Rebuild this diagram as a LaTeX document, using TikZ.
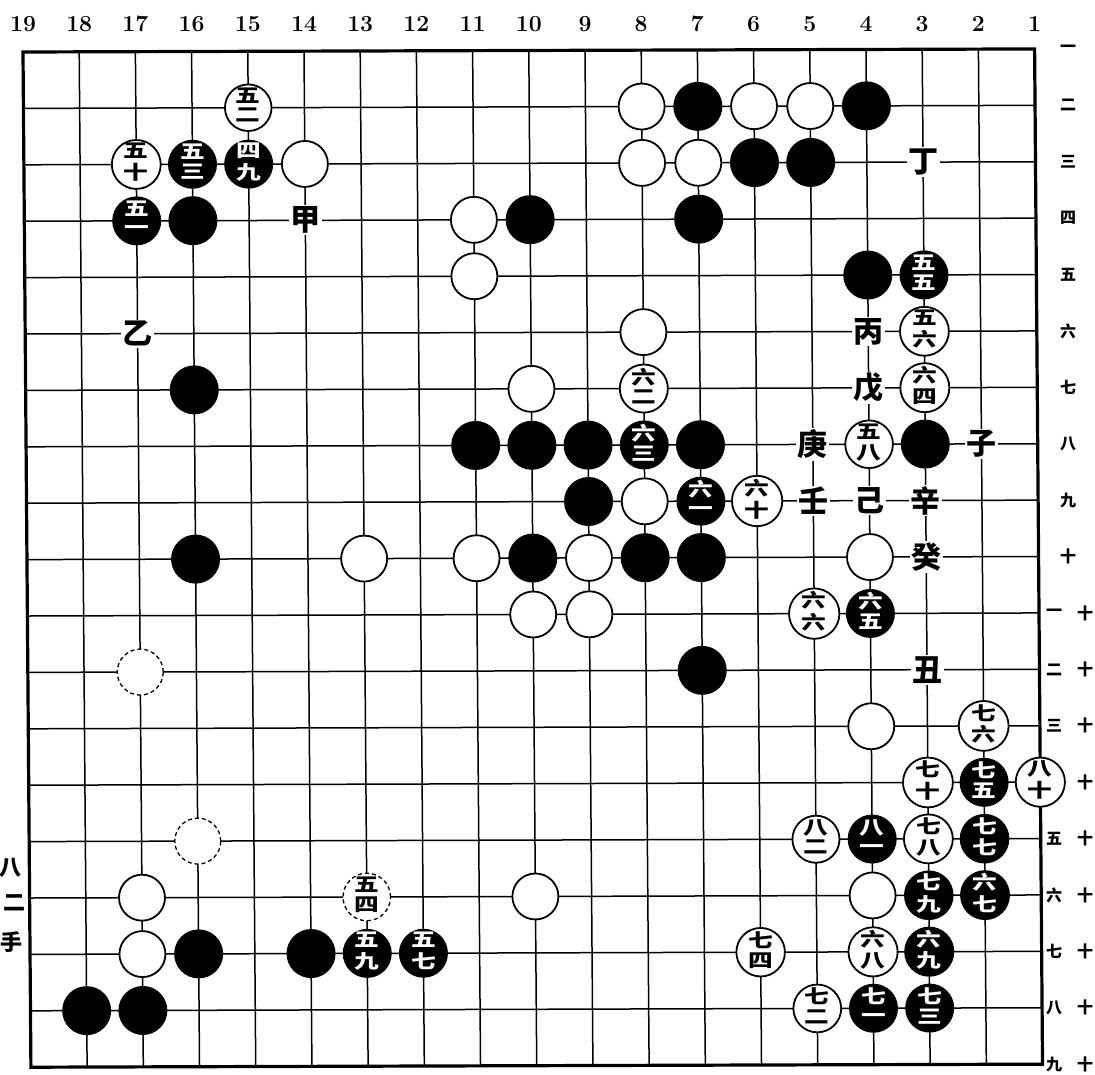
\documentclass[tikz,border=0pt]{standalone}
\usepackage{fontspec}
\usepackage{graphicx}
\newfontfamily\cjk{Noto Sans CJK SC}
\newcommand{\labfont}{\cjk\bfseries\fontsize{19}{19}\selectfont}
\newcommand{\letfont}{\cjk\bfseries\fontsize{30}{30}\selectfont}
\newcommand{\rowfont}{\cjk\bfseries\fontsize{16}{16}\selectfont}
\newcommand{\stonelab}[1]{\scalebox{1.3}[1]{\begin{tabular}{@{}c@{}}#1\end{tabular}}}
\tikzset{
  gridline/.style={line width=1.5pt},
  edgeline/.style={line width=3.2pt, line join=miter},
  bst/.style={circle, fill=black, minimum size=49pt, inner sep=0pt, text=white, font=\labfont},
  wst/.style={circle, fill=white, draw=black, line width=1.8pt, minimum size=46pt, inner sep=0pt, font=\labfont},
  faintst/.style={wst, dash pattern=on 4pt off 3pt, line width=1.3pt},
  letterlab/.style={fill=white, inner sep=1.5pt, font=\letfont},
  collab/.style={font=\fontsize{23}{23}\selectfont\bfseries, inner sep=0pt},
  rowlab/.style={font=\rowfont, inner sep=0pt}
}
\newcommand{\bstone}[3]{\node[bst] (b#1-#2) at ({19-#1},{#2-1}) {#3};}
\newcommand{\wstone}[3]{\node[wst] (w#1-#2) at ({19-#1},{#2-1}) {#3};}
\newcommand{\bnum}[3]{\node[bst] (b#1-#2) at ({19-#1},{#2-1}) {\stonelab{#3}};}
\newcommand{\wnum}[3]{\node[wst] (w#1-#2) at ({19-#1},{#2-1}) {\stonelab{#3}};}
\newcommand{\letterat}[3]{\node[letterlab] (l#1-#2) at ({19-#1},{#2-1}) {#3};}
\begin{document}
\begin{tikzpicture}[x=1pt,y=1pt]
\useasboundingbox (0,0) rectangle (1095,-1074);
% column numbers
\foreach \c in {1,...,19} {
  \node[collab] (c\c) at ({23+(19-\c)*56.2},-24) {\c};
}
% row labels on the right
\foreach \r/\t in {1/一,2/二,3/三,4/四,5/五,6/六,7/七,8/八,9/九,10/十} {
  \node[rowlab] (r\r) at (1068,{-(52+(\r-1)*56.4)+3}) {\t};
}
\foreach \r/\t in {11/一,12/二,13/三,15/五,16/六,17/七,18/八,19/九} {
  \node[rowlab] (ra\r) at (1054,{-(52+(\r-1)*56.4)+3}) {\t};
}
\foreach \r in {11,...,19} {
  \node[rowlab] (rb\r) at (1085,{-(52+(\r-1)*56.4)+3}) {十};
}
% left margin text
\node[rowlab, font=\cjk\bfseries\fontsize{22}{22}\selectfont] (m1) at (10,-868) {八};
\node[rowlab, font=\cjk\bfseries\fontsize{22}{22}\selectfont] (m2) at (14,-903) {二};
\node[rowlab, font=\cjk\bfseries\fontsize{22}{22}\selectfont] (m3) at (12,-942) {手};

\begin{scope}[shift={(23pt,-52pt)}, x={(56.2pt,0.17pt)}, y={(0.44pt,-56.4pt)}]
  \foreach \i in {1,...,17} { \draw[gridline] (\i,0) -- (\i,18); }
  \foreach \j in {1,...,17} { \draw[gridline] (0,\j) -- (18,\j); }
  \draw[edgeline] (0,0) -- (18,0) -- (18,18) -- (0,18) -- cycle;

  % letters
  \letterat{14}{4}{甲}
  \letterat{17}{6}{乙}
  \letterat{4}{6}{丙}
  \letterat{3}{3}{丁}
  \letterat{4}{7}{戊}
  \letterat{4}{9}{己}
  \letterat{5}{8}{庚}
  \letterat{3}{9}{辛}
  \letterat{5}{9}{壬}
  \letterat{3}{10}{癸}
  \letterat{2}{8}{子}
  \letterat{3}{12}{丑}

  % black stones
  \bstone{4}{2}{}
  \bstone{7}{2}{}
  \bstone{6}{3}{}
  \bstone{5}{3}{}
  \bnum{15}{3}{四\\九}
  \bnum{16}{3}{五\\三}
  \bnum{17}{4}{五\\一}
  \bstone{16}{4}{}
  \bstone{10}{4}{}
  \bstone{7}{4}{}
  \bstone{4}{5}{}
  \bnum{3}{5}{五\\五}
  \bstone{16}{7}{}
  \bstone{11}{8}{}
  \bstone{10}{8}{}
  \bstone{9}{8}{}
  \bnum{8}{8}{六\\三}
  \bstone{7}{8}{}
  \bstone{3}{8}{}
  \bstone{9}{9}{}
  \bnum{7}{9}{六\\一}
  \bstone{16}{10}{}
  \bstone{10}{10}{}
  \bstone{8}{10}{}
  \bstone{7}{10}{}
  \bnum{4}{11}{六\\五}
  \bstone{7}{12}{}
  \bnum{2}{14}{七\\五}
  \bnum{4}{15}{八\\一}
  \bnum{2}{15}{七\\七}
  \bnum{3}{16}{七\\九}
  \bnum{2}{16}{六\\七}
  \bstone{16}{17}{}
  \bstone{14}{17}{}
  \bnum{13}{17}{五\\九}
  \bnum{12}{17}{五\\七}
  \bnum{3}{17}{六\\九}
  \bstone{18}{18}{}
  \bstone{17}{18}{}
  \bnum{4}{18}{七\\一}
  \bnum{3}{18}{七\\三}

  % white stones
  \wnum{15}{2}{五\\二}
  \wstone{8}{2}{}
  \wstone{6}{2}{}
  \wstone{5}{2}{}
  \wnum{17}{3}{五\\十}
  \wstone{14}{3}{}
  \wstone{8}{3}{}
  \wstone{7}{3}{}
  \wstone{11}{4}{}
  \wstone{11}{5}{}
  \wstone{8}{6}{}
  \wnum{3}{6}{五\\六}
  \wstone{10}{7}{}
  \wnum{8}{7}{六\\二}
  \wnum{3}{7}{六\\四}
  \wnum{4}{8}{五\\八}
  \wstone{8}{9}{}
  \wnum{6}{9}{六\\十}
  \wstone{13}{10}{}
  \wstone{11}{10}{}
  \wstone{9}{10}{}
  \wstone{4}{10}{}
  \wstone{10}{11}{}
  \wstone{9}{11}{}
  \wnum{5}{11}{六\\六}
  \node[faintst] (w17-12) at (2,11) {};
  \wstone{4}{13}{}
  \wnum{2}{13}{七\\六}
  \wnum{3}{14}{七\\十}
  \wnum{1}{14}{八\\十}
  \node[faintst] (w16-15) at (3,14) {};
  \wnum{5}{15}{八\\二}
  \wnum{3}{15}{七\\八}
  \wstone{17}{16}{}
  \node[faintst] (w13-16) at (6,15) {\stonelab{五\\四}};
  \wstone{10}{16}{}
  \wstone{4}{16}{}
  \wstone{17}{17}{}
  \wnum{6}{17}{七\\四}
  \wnum{4}{17}{六\\八}
  \wnum{5}{18}{七\\二}
\end{scope}
\end{tikzpicture}
\end{document}
